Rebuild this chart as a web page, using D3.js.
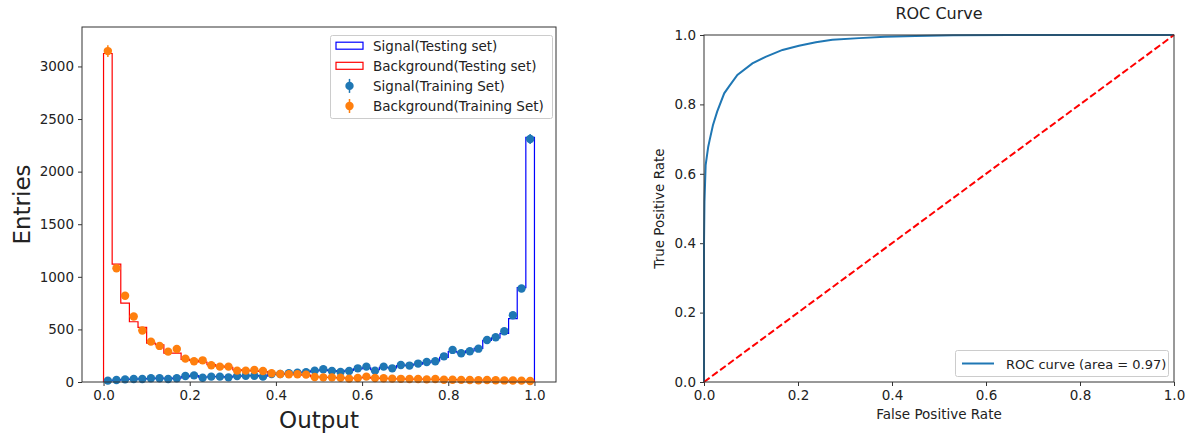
<!DOCTYPE html>
<html>
<head>
<meta charset="utf-8">
<script src="https://cdn.jsdelivr.net/npm/d3@7"></script>
<style>
  body { margin: 0; background: #fff; }
  svg { font-family: "DejaVu Sans", sans-serif; }
  .tick text { fill: #222; }
  .domain, .tick line { stroke: #333; }
</style>
</head>
<body>
<svg id="chart" width="1191" height="433"></svg>
<script>
// Histogram counts, 50 bins over [0, 1]
const sigTest = [12, 18, 24, 28, 30, 33, 36, 32, 36, 52, 60, 45, 50, 52, 47, 55, 58, 60, 55, 72,
  78, 82, 88, 95, 105, 115, 108, 100, 110, 125, 135, 118, 140, 135, 155, 160, 170, 185, 200, 235,
  290, 280, 295, 320, 395, 420, 463, 603, 898, 2325];
const bgTest = [3123, 1120, 750, 573, 519, 370, 354, 275, 275, 215, 205, 190, 165, 150, 140, 115, 110, 105, 100, 85,
  78, 72, 70, 65, 50, 45, 43, 40, 36, 38, 45, 37, 34, 31, 30, 28, 27, 26, 26, 23,
  22, 20, 19, 18, 18, 16, 15, 14, 13, 11];
const sigTrain = [13, 19, 25, 29, 29, 35, 35, 29, 35, 57, 63, 41, 51, 51, 44, 57, 60, 60, 51, 76,
  76, 83, 89, 92, 108, 121, 105, 95, 105, 130, 146, 108, 146, 130, 162, 156, 175, 190, 197, 244,
  305, 273, 292, 317, 400, 425, 483, 635, 889, 2310];
const bgTrain = [3146, 1082, 820, 623, 489, 384, 343, 289, 314, 222, 197, 206, 159, 146, 146, 108, 108, 114, 105, 83,
  76, 73, 73, 70, 48, 44, 44, 41, 32, 38, 51, 38, 35, 32, 30, 28, 28, 25, 28, 22,
  22, 20, 19, 17, 19, 16, 15, 14, 13, 10];
const nBins = 50;

// ROC curve points
const fpr = [0, 0, 0.001, 0.0035, 0.009, 0.012, 0.019, 0.028, 0.043, 0.053, 0.071, 0.103, 0.131,
  0.167, 0.202, 0.238, 0.273, 0.33, 0.385, 0.45, 0.53, 0.65, 1];
const tpr = [0, 0.40, 0.52, 0.625, 0.678, 0.697, 0.74, 0.779, 0.832, 0.851, 0.885, 0.918, 0.937,
  0.957, 0.969, 0.979, 0.986, 0.991, 0.995, 0.997, 0.999, 1.0, 1];

const histTicksX = [0, 0.2, 0.4, 0.6, 0.8, 1.0];
const histTicksY = [0, 500, 1000, 1500, 2000, 2500, 3000];
const rocTicks = [0, 0.2, 0.4, 0.6, 0.8, 1.0];

const svg = d3.select("#chart");
const fs = 13.5;

// ---------- left: classifier output ----------
const L = { left: 82, right: 556, top: 27, bottom: 382 };
const x1 = d3.scaleLinear().domain([-0.05, 1.05]).range([L.left, L.right]);
const y1 = d3.scaleLinear().domain([0, 3375]).range([L.bottom, L.top]);

const g1 = svg.append("g");

g1.append("g")
  .attr("transform", `translate(0,${L.bottom})`)
  .call(d3.axisBottom(x1).tickValues(histTicksX).tickFormat(d3.format(".1f")).tickSizeOuter(0).tickSize(4).tickPadding(4))
  .call(a => a.select(".domain").remove())
  .selectAll("text").attr("font-size", fs).attr("font-family", "DejaVu Sans");

g1.append("g")
  .attr("transform", `translate(${L.left},0)`)
  .call(d3.axisLeft(y1).tickValues(histTicksY).tickFormat(d3.format("d")).tickSizeOuter(0).tickSize(4).tickPadding(4))
  .call(a => a.select(".domain").remove())
  .selectAll("text").attr("font-size", fs).attr("font-family", "DejaVu Sans");

// step outlines
function stepPath(vals) {
  const pts = [[0, 0]];
  vals.forEach((v, i) => pts.push([i / nBins, v]));
  pts.push([1, 0]);
  return d3.line().x(d => x1(d[0])).y(d => y1(d[1])).curve(d3.curveStepAfter)(pts);
}

g1.append("path").attr("d", stepPath(sigTest))
  .attr("fill", "none").attr("stroke", "#0000ff").attr("stroke-width", 1.2);
g1.append("path").attr("d", stepPath(bgTest))
  .attr("fill", "none").attr("stroke", "#ff0000").attr("stroke-width", 1.2);

// training points with errors
function drawPoints(vals, color) {
  const grp = g1.append("g");
  const cx = (d, i) => x1((i + 0.5) / nBins);
  grp.selectAll("line").data(vals).enter().append("line")
    .attr("x1", cx).attr("x2", cx)
    .attr("y1", d => y1(d + Math.sqrt(d)))
    .attr("y2", d => y1(Math.max(0, d - Math.sqrt(d))))
    .attr("stroke", color).attr("stroke-width", 1.5);
  grp.selectAll("circle").data(vals).enter().append("circle")
    .attr("cx", cx).attr("cy", d => y1(d))
    .attr("r", 4.2).attr("fill", color);
}
drawPoints(sigTrain, "#1f77b4");
drawPoints(bgTrain, "#ff7f0e");

// frame
g1.append("rect")
  .attr("x", L.left).attr("y", L.top)
  .attr("width", L.right - L.left).attr("height", L.bottom - L.top)
  .attr("fill", "none").attr("stroke", "#333").attr("stroke-width", 1);

// legend
const leg1 = g1.append("g");
leg1.append("rect").attr("x", 330.5).attr("y", 35.5).attr("width", 222).attr("height", 83)
  .attr("fill", "#fff").attr("fill-opacity", 0.8).attr("stroke", "#ccc").attr("rx", 2);
const leg1Items = [
  { label: "Signal(Testing set)", type: "patch", color: "#0000ff" },
  { label: "Background(Testing set)", type: "patch", color: "#ff0000" },
  { label: "Signal(Training Set)", type: "point", color: "#1f77b4" },
  { label: "Background(Training Set)", type: "point", color: "#ff7f0e" }
];
leg1Items.forEach((d, i) => {
  const yy = 45.7 + i * 20.1;
  if (d.type === "patch") {
    leg1.append("rect").attr("x", 336).attr("y", yy - 3.5).attr("width", 27).attr("height", 7)
      .attr("fill", "none").attr("stroke", d.color).attr("stroke-width", 1.2);
  } else {
    leg1.append("line").attr("x1", 349.5).attr("x2", 349.5).attr("y1", yy - 7).attr("y2", yy + 7)
      .attr("stroke", d.color).attr("stroke-width", 1.5);
    leg1.append("circle").attr("cx", 349.5).attr("cy", yy).attr("r", 4.2).attr("fill", d.color);
  }
  leg1.append("text").attr("x", 373).attr("y", yy + 5)
    .attr("font-size", fs).attr("fill", "#222").text(d.label);
});

// axis labels
g1.append("text")
  .attr("x", (L.left + L.right) / 2).attr("y", 428)
  .attr("text-anchor", "middle").attr("font-size", 23).attr("fill", "#222")
  .text("Output");
g1.append("text")
  .attr("transform", `translate(30,${(L.top + L.bottom) / 2}) rotate(-90)`)
  .attr("text-anchor", "middle").attr("font-size", 23).attr("fill", "#222")
  .text("Entries");

// ---------- right: ROC ----------
const R = { left: 704, right: 1174, top: 35, bottom: 382 };
const x2 = d3.scaleLinear().domain([0, 1]).range([R.left, R.right]);
const y2 = d3.scaleLinear().domain([0, 1]).range([R.bottom, R.top]);
const g2 = svg.append("g");

g2.append("g")
  .attr("transform", `translate(0,${R.bottom})`)
  .call(d3.axisBottom(x2).tickValues(rocTicks).tickFormat(d3.format(".1f")).tickSizeOuter(0).tickSize(4).tickPadding(4))
  .call(a => a.select(".domain").remove())
  .selectAll("text").attr("font-size", fs).attr("font-family", "DejaVu Sans");

g2.append("g")
  .attr("transform", `translate(${R.left},0)`)
  .call(d3.axisLeft(y2).tickValues(rocTicks).tickFormat(d3.format(".1f")).tickSizeOuter(0).tickSize(4).tickPadding(4))
  .call(a => a.select(".domain").remove())
  .selectAll("text").attr("font-size", fs).attr("font-family", "DejaVu Sans");

const roc = fpr.map((f, i) => [f, tpr[i]]);
g2.append("path")
  .datum(roc)
  .attr("fill", "none").attr("stroke", "#1f77b4").attr("stroke-width", 2)
  .attr("d", d3.line().x(d => x2(d[0])).y(d => y2(d[1])));

g2.append("path")
  .datum([[0, 0], [1, 1]])
  .attr("fill", "none").attr("stroke", "#ff0000").attr("stroke-width", 2)
  .attr("stroke-dasharray", "7,3")
  .attr("d", d3.line().x(d => x2(d[0])).y(d => y2(d[1])));

g2.append("rect")
  .attr("x", R.left).attr("y", R.top)
  .attr("width", R.right - R.left).attr("height", R.bottom - R.top)
  .attr("fill", "none").attr("stroke", "#333").attr("stroke-width", 1);

// legend
const leg2 = g2.append("g");
leg2.append("rect").attr("x", 955.5).attr("y", 350.5).attr("width", 213).attr("height", 26)
  .attr("fill", "#fff").attr("fill-opacity", 0.8).attr("stroke", "#ccc").attr("rx", 2);
leg2.append("line").attr("x1", 962).attr("x2", 994).attr("y1", 363.5).attr("y2", 363.5)
  .attr("stroke", "#1f77b4").attr("stroke-width", 2);
leg2.append("text").attr("x", 1006).attr("y", 368.5)
  .attr("font-size", 13).attr("fill", "#222").text("ROC curve (area = 0.97)");

g2.append("text")
  .attr("x", (R.left + R.right) / 2).attr("y", 419)
  .attr("text-anchor", "middle").attr("font-size", fs).attr("fill", "#222")
  .text("False Positive Rate");
g2.append("text")
  .attr("transform", `translate(664,${(R.top + R.bottom) / 2}) rotate(-90)`)
  .attr("text-anchor", "middle").attr("font-size", fs).attr("fill", "#222")
  .text("True Positive Rate");
g2.append("text")
  .attr("x", (R.left + R.right) / 2).attr("y", 19)
  .attr("text-anchor", "middle").attr("font-size", 16).attr("fill", "#222")
  .text("ROC Curve");
</script>
</body>
</html>
